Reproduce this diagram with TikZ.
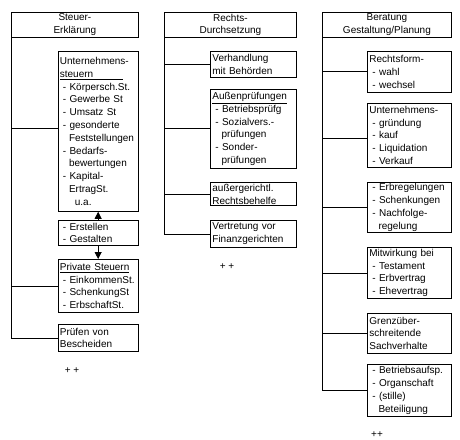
\documentclass[tikz,border=0pt]{standalone}
\usepackage{fontspec}
\setmainfont{Liberation Sans}
\usetikzlibrary{arrows.meta}
\newcommand{\mybul}[1]{\hspace*{3bp}- #1}
\newcommand{\mycont}[1]{\hspace*{9.1bp}#1}
\tikzset{
  base/.style={draw, rectangle, line width=0.8bp, anchor=north west, inner xsep=2bp, inner ysep=0pt,
    font=\fontsize{10bp}{12.8bp}\selectfont},
  box/.style={base, align=left},
  hdr/.style={base, align=center},
  conn/.style={line width=0.8bp},
  arr/.style={line width=0.8bp, -{Triangle[width=7bp,length=7bp]}},
  plus/.style={font=\fontsize{10bp}{12.8bp}\selectfont, inner sep=0pt}
}
\begin{document}
\begin{tikzpicture}[x=1bp,y=-1bp]
\useasboundingbox[fill=white] (0,0) rectangle (460,440);
% Column 1
\node[hdr, text width=123bp, minimum height=25bp] (h1) at (11,12) {Steuer-\\Erklärung};
\node[box, text width=76.5bp, minimum height=160bp] (u) at (57.5,51) {Unternehmens-\\
\underline{\makebox[63bp][l]{steuern}}\\
\mybul{Körpersch.St.}\\
\mybul{Gewerbe St}\\
\mybul{Umsatz St}\\
\mybul{gesonderte}\\
\mycont{Feststellungen}\\
\mybul{Bedarfs-}\\
\mycont{bewertungen}\\
\mybul{Kapital-}\\
\mycont{ErtragSt.}\\
\hspace*{15bp}u.a.};
\node[box, text width=76.5bp, minimum height=25bp] (e) at (57.5,220) {\mybul{Erstellen}\\ \mybul{Gestalten}};
\node[box, text width=76.5bp, minimum height=53bp] (ps) at (57.5,259) {\underline{Private Steuern}\\
\mybul{EinkommenSt.}\\
\mybul{SchenkungSt}\\
\mybul{ErbschaftSt.}};
\node[box, text width=76.5bp, minimum height=27bp] (p) at (57.5,324) {Prüfen von\\ Bescheiden};
\draw[conn] (h1.south west) |- (p.west);
\draw[conn] (h1.south west |- 0,128) -- (u.west |- 0,128);
\draw[conn] (h1.south west |- ps.west) -- (ps.west);
\draw[arr] (e.north) -- (u.south);
\draw[arr] (e.south) -- (ps.north);
\node[plus] (pl1) at (72,371) {+ +};
% Column 2
\node[hdr, text width=128bp, minimum height=25bp] (h2) at (164,12) {Rechts-\\Durchsetzung};
\node[box, text width=82bp, minimum height=26bp] (v) at (210,51) {Verhandlung\\ mit Behörden};
\node[box, text width=82bp, minimum height=79bp] (a) at (210,89) {\underline{Außenprüfungen}\\
\mybul{Betriebsprüfg}\\
\mybul{Sozialvers.-}\\
\mycont{prüfungen}\\
\mybul{Sonder-}\\
\mycont{prüfungen}};
\node[box, text width=82bp, minimum height=23.5bp] (ag) at (210,182) {außergerichtl.\\ Rechtsbehelfe};
\node[box, text width=82bp, minimum height=27bp] (vf) at (210,220) {Vertretung vor\\ Finanzgerichten};
\draw[conn] (h2.south west) |- (vf.west);
\draw[conn] (h2.south west |- v.west) -- (v.west);
\draw[conn] (h2.south west |- a.west) -- (a.west);
\draw[conn] (h2.south west |- ag.west) -- (ag.west);
\node[plus] (pl2) at (227,267) {+ +};
% Column 3
\node[hdr, text width=125bp, minimum height=25bp] (h3) at (322,12) {Beratung\\Gestaltung/Planung};
\node[box, text width=80bp, minimum height=41bp] (r) at (367,51) {Rechtsform-\\ \mybul{wahl}\\ \mybul{wechsel}};
\node[box, text width=80bp, minimum height=64bp] (un) at (367,103) {Unternehmens-\\
\mybul{gründung}\\
\mybul{kauf}\\
\mybul{Liquidation}\\
\mybul{Verkauf}};
\node[box, text width=80bp, minimum height=50bp] (er) at (367,182) {\mybul{Erbregelungen}\\
\mybul{Schenkungen}\\
\mybul{Nachfolge-}\\
\mycont{regelung}};
\node[box, text width=80bp, minimum height=51bp] (mw) at (367,247) {Mitwirkung bei\\
\mybul{Testament}\\
\mybul{Erbvertrag}\\
\mybul{Ehevertrag}};
\node[box, text width=80bp, minimum height=40bp] (gr) at (367,313) {Grenzüber-\\ schreitende\\ Sachverhalte};
\node[box, text width=80bp, minimum height=52bp] (bt) at (367,364) {\mybul{Betriebsaufsp.}\\
\mybul{Organschaft}\\
\mybul{(stille)}\\
\mycont{Beteiligung}};
\draw[conn] (h3.south west) |- (bt.west);
\draw[conn] (h3.south west |- r.west) -- (r.west);
\draw[conn] (h3.south west |- 0,138) -- (un.west |- 0,138);
\draw[conn] (h3.south west |- er.west) -- (er.west);
\draw[conn] (h3.south west |- mw.west) -- (mw.west);
\draw[conn] (h3.south west |- gr.west) -- (gr.west);
\node[plus] (pl3) at (377,435) {++};
\end{tikzpicture}
\end{document}
